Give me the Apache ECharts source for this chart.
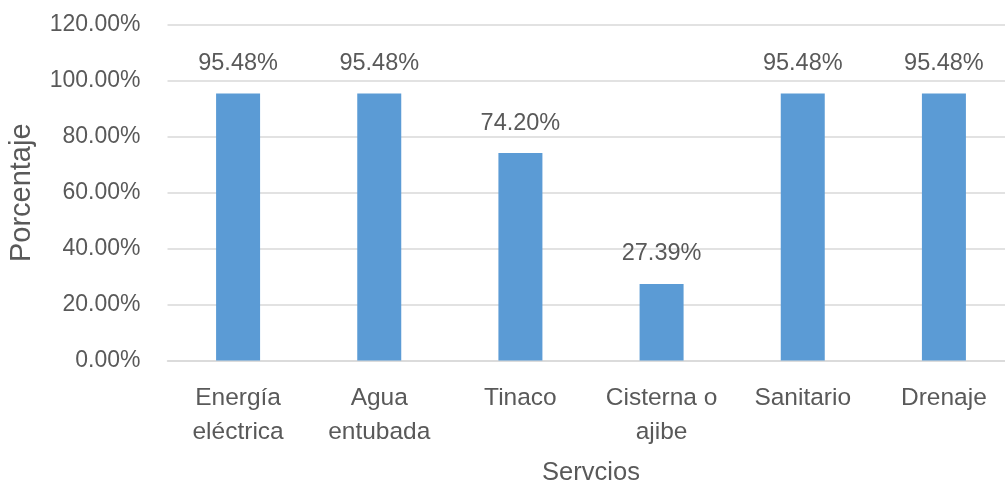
<!DOCTYPE html>
<html>
<head>
<meta charset="utf-8">
<script src="https://cdn.jsdelivr.net/npm/echarts@6/dist/echarts.min.js"></script>
<style>html,body{margin:0;padding:0;background:#fff}#c{width:1005px;height:487px}</style>
</head>
<body>
<div id="c"></div>
<script>
const categories = ['Energía\neléctrica', 'Agua\nentubada', 'Tinaco', 'Cisterna o\najibe', 'Sanitario', 'Drenaje'];
const values = [95.48, 95.48, 74.20, 27.39, 95.48, 95.48];
const yTicks = [0, 20, 40, 60, 80, 100, 120];

const FONT = 'Liberation Sans';
const TXT = '#595959';
const chart = echarts.init(document.getElementById('c'));
chart.setOption({
  animation: false,
  grid: { left: 167.5, top: 25, width: 847, height: 335.5, containLabel: false, outerBoundsMode: 'none' },
  xAxis: {
    type: 'category',
    data: categories,
    name: 'Servcios',
    nameLocation: 'middle',
    nameGap: 99,
    nameTextStyle: { color: TXT, fontFamily: FONT, fontSize: 25.5 },
    axisLine: { show: true, lineStyle: { color: '#D9D9D9', width: 1.5 } },
    axisTick: { show: false },
    axisLabel: { color: TXT, fontFamily: FONT, fontSize: 24.5, lineHeight: 34, margin: 21, interval: 0 }
  },
  yAxis: {
    type: 'value',
    min: yTicks[0],
    max: yTicks[yTicks.length - 1],
    interval: 20,
    name: 'Porcentaje',
    nameLocation: 'middle',
    nameGap: 131,
    nameRotate: 90,
    nameTextStyle: { color: TXT, fontFamily: FONT, fontSize: 29 },
    axisLine: { show: false },
    axisTick: { show: false },
    splitLine: { lineStyle: { color: '#D9D9D9', width: 1.5 } },
    axisLabel: { color: TXT, fontFamily: FONT, fontSize: 23, margin: 27, formatter: v => v.toFixed(2) + '%' }
  },
  series: [{
    type: 'bar',
    data: values,
    barWidth: 44,
    itemStyle: { color: '#5B9BD5' },
    label: {
      show: true,
      position: 'top',
      distance: 18,
      color: TXT,
      fontFamily: FONT,
      fontSize: 23.5,
      formatter: p => p.value.toFixed(2) + '%'
    }
  }]
});
</script>
</body>
</html>
